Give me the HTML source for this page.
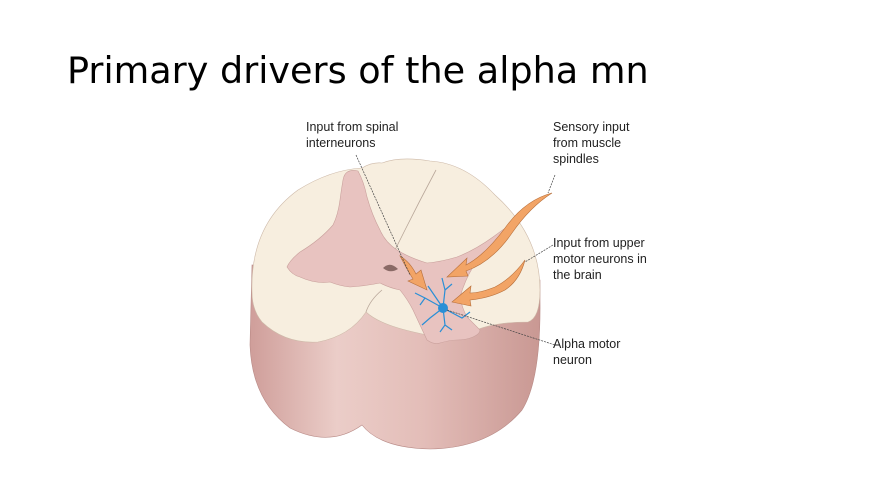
<!DOCTYPE html>
<html><head><meta charset="utf-8"><style>
html,body{margin:0;padding:0;background:#fff;}
body{width:880px;height:495px;position:relative;overflow:hidden;}
.t{position:absolute;left:67px;top:49px;font:36.6px "DejaVu Sans",sans-serif;color:#000;white-space:nowrap;}
svg{position:absolute;left:0;top:0;}
.l{font:12.5px "Liberation Sans",sans-serif;fill:#222;}
</style></head><body>
<div class="t">Primary drivers of the alpha mn</div>
<svg width="880" height="495" viewBox="0 0 880 495">
<defs>
<linearGradient id="side" x1="0" x2="1" y1="0" y2="0">
<stop offset="0" stop-color="#cf9e9a"/><stop offset="0.3" stop-color="#ebcdc8"/><stop offset="0.6" stop-color="#e3bdb8"/><stop offset="1" stop-color="#c99893"/>
</linearGradient>
</defs>
<path d="M252,265 L250,345 Q252,400 290,428 Q330,448 362,425 Q380,448 430,449 Q490,448 522,410 Q541,380 540,300 L540,280 Z" fill="url(#side)" stroke="#b88a86" stroke-width="0.6"/>
<path d="M252,292 Q250,225 298,190 Q330,170 362,168 Q372,162 382,163 Q400,156 430,161 Q465,163 495,195 Q540,235 540,290 Q540,318 528,322 Q490,322 470,333 Q445,340 418,333 Q380,325 366,312 Q350,336 318,342 Q285,344 262,322 Q252,310 252,292 Z" fill="#f7eedf" stroke="#cdb9a8" stroke-width="0.6"/>
<path d="M436,170 Q420,200 405,230 Q395,250 392,256" stroke="#b9a79a" stroke-width="0.8" fill="none"/>
<path d="M382,290 Q370,300 366,312" stroke="#b9a79a" stroke-width="0.8" fill="none"/>
<path d="M358,171 Q345,168 343,180 Q341,192 340,200 Q338,215 333,225 Q320,240 300,252 Q290,260 287,267 Q292,275 300,277 Q315,284 330,282 Q340,286 350,287 Q365,286 380,283 Q390,288 400,290 Q408,300 413,310 Q420,325 427,340 Q434,345 440,343 Q450,340 457,340 Q466,340 473,337 Q480,334 480,330 Q472,322 467,317 Q462,308 460,297 Q465,280 473,267 Q490,250 507,237 Q514,228 517,220 Q505,228 493,237 Q475,250 457,257 Q440,262 427,263 Q410,258 397,250 Q385,242 380,230 Q372,215 367,197 Q364,182 358,171 Z" fill="#e8c3c0" stroke="#c9a09c" stroke-width="0.6"/>
<path d="M383,268 Q390,261 398,269 Q390,274 383,268 Z" fill="#8a6a66"/>
<g stroke="#2a8fd6" stroke-width="1.2" fill="none">
<path d="M443,308 L425,298 L415,293 M425,298 L420,305 M443,308 L430,318 L422,325 M443,308 L445,325 L440,332 M445,325 L452,330 M443,308 L445,290 L442,278 M445,290 L452,284 M443,308 L462,318 L470,312 M443,308 L428,286"/>
</g>
<circle cx="443" cy="308" r="5" fill="#2a8fd6"/>
<g fill="#f2a466" stroke="#b66e3a" stroke-width="0.6">
<path d="M400,256 Q410,262 416,274 L421,270 L427,290 L408,281 L413,279 Q406,268 400,256 Z"/>
<path d="M552,193 Q525,200 505,228 Q485,255 466,265 L467,258 L447,277 L468,276 L466,271 Q492,262 512,233 Q530,207 552,193 Z"/>
<path d="M525,260 Q512,278 495,287 Q480,293 470,293 L471,286 L452,302 L471,306 L470,300 Q490,298 505,290 Q520,280 525,260 Z"/>
</g>
<g stroke="#444" stroke-width="0.7" fill="none" stroke-dasharray="2,1">
<path d="M356,155 L410,275"/>
<path d="M555,175 L548,193"/>
<path d="M553,245 L525,262"/>
<path d="M447,310 L555,345"/>
</g>
<text class="l" x="306" y="131">Input from spinal</text>
<text class="l" x="306" y="147">interneurons</text>
<text class="l" x="553" y="131">Sensory input</text>
<text class="l" x="553" y="147">from muscle</text>
<text class="l" x="553" y="163">spindles</text>
<text class="l" x="553" y="247">Input from upper</text>
<text class="l" x="553" y="263">motor neurons in</text>
<text class="l" x="553" y="279">the brain</text>
<text class="l" x="553" y="348">Alpha motor</text>
<text class="l" x="553" y="364">neuron</text>
</svg>
</body></html>
